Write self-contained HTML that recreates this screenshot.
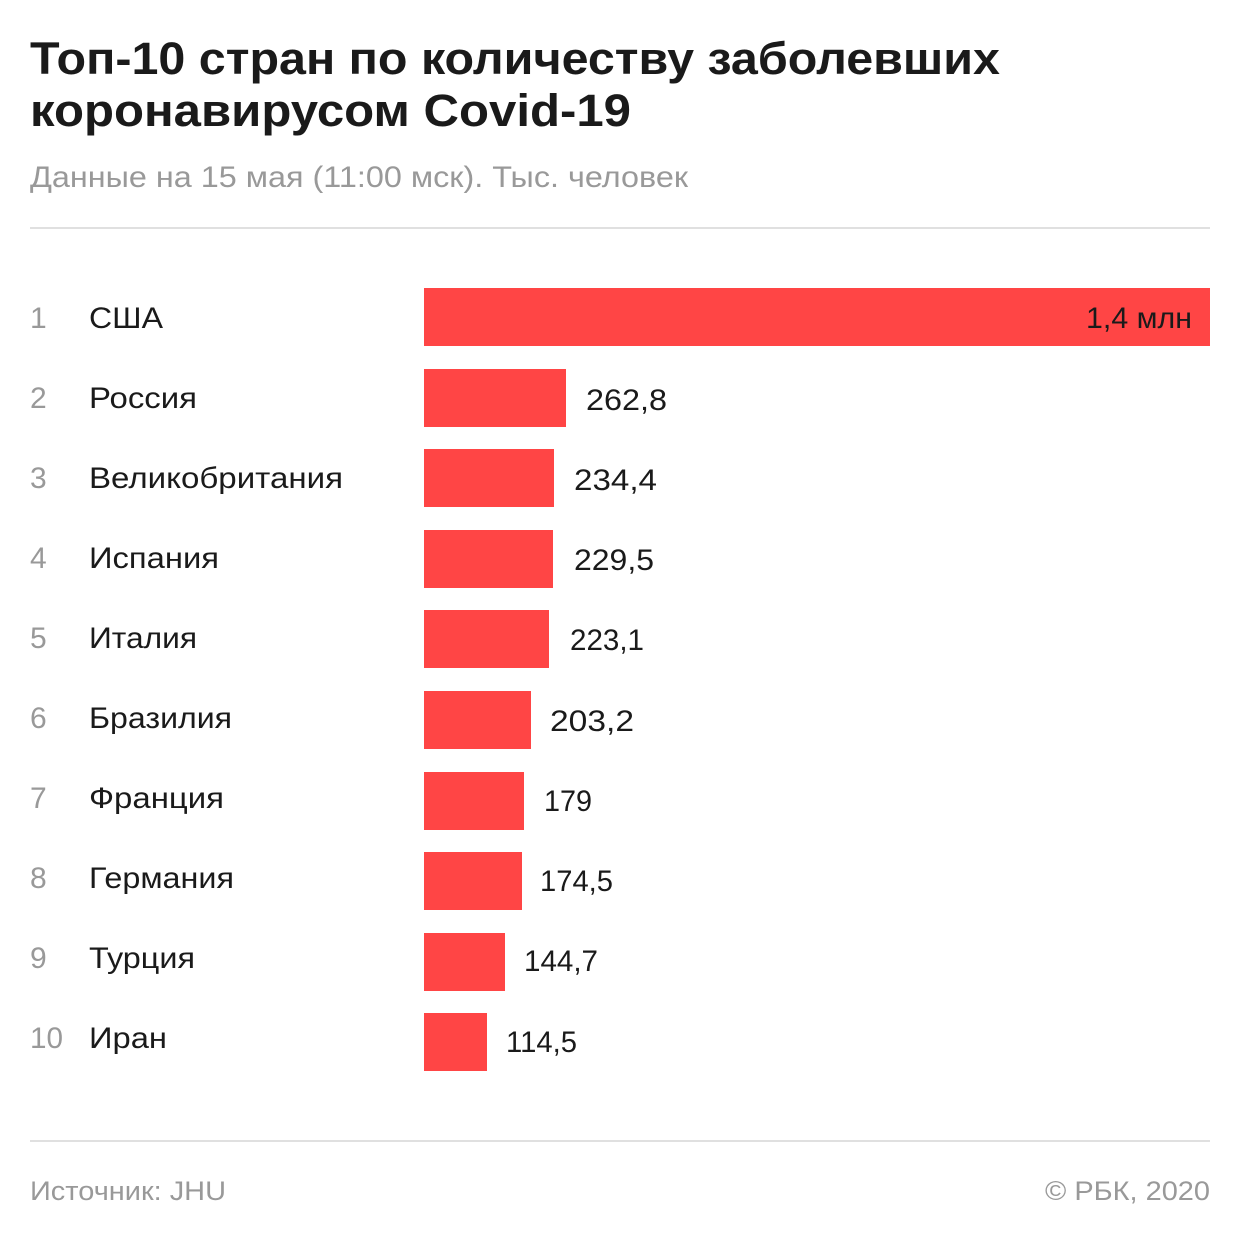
<!DOCTYPE html>
<html><head><meta charset="utf-8"><style>html,body{margin:0;padding:0;background:#fff}</style></head>
<body>
<svg width="1240" height="1240" viewBox="0 0 1240 1240" xmlns="http://www.w3.org/2000/svg" font-family="Liberation Sans, sans-serif">
<rect width="1240" height="1240" fill="#fff"/>
<g fill="#1a1a1a" font-weight="bold" font-size="45">
<text x="30" y="74" textLength="970" lengthAdjust="spacingAndGlyphs">Топ-10 стран по количеству заболевших</text>
<text x="30" y="126" textLength="601" lengthAdjust="spacingAndGlyphs">коронавирусом Covid-19</text>
</g>
<text x="30" y="187" fill="#999" font-size="30" textLength="658" lengthAdjust="spacingAndGlyphs">Данные на 15 мая (11:00 мск). Тыс. человек</text>
<rect x="30" y="227" width="1180" height="2" fill="#e0e0e0"/>
<rect x="30" y="1140" width="1180" height="2" fill="#e0e0e0"/>
<g fill="#ff4545">
<rect x="424" y="288" width="786" height="58"/>
<rect x="424" y="369" width="142" height="58"/>
<rect x="424" y="449" width="130" height="58"/>
<rect x="424" y="530" width="129" height="58"/>
<rect x="424" y="610" width="125" height="58"/>
<rect x="424" y="691" width="107" height="58"/>
<rect x="424" y="772" width="100" height="58"/>
<rect x="424" y="852" width="98" height="58"/>
<rect x="424" y="933" width="81" height="58"/>
<rect x="424" y="1013" width="63" height="58"/>
</g>
<g fill="#999" font-size="30">
<text x="30" y="328">1</text>
<text x="30" y="408">2</text>
<text x="30" y="488">3</text>
<text x="30" y="568">4</text>
<text x="30" y="648">5</text>
<text x="30" y="728">6</text>
<text x="30" y="808">7</text>
<text x="30" y="888">8</text>
<text x="30" y="968">9</text>
<text x="30" y="1048" textLength="33" lengthAdjust="spacingAndGlyphs">10</text>
</g>
<g fill="#1a1a1a" font-size="30">
<text x="89" y="328" textLength="74" lengthAdjust="spacingAndGlyphs">США</text>
<text x="89" y="408" textLength="108" lengthAdjust="spacingAndGlyphs">Россия</text>
<text x="89" y="488" textLength="254" lengthAdjust="spacingAndGlyphs">Великобритания</text>
<text x="89" y="568" textLength="130" lengthAdjust="spacingAndGlyphs">Испания</text>
<text x="89" y="648" textLength="108" lengthAdjust="spacingAndGlyphs">Италия</text>
<text x="89" y="728" textLength="143" lengthAdjust="spacingAndGlyphs">Бразилия</text>
<text x="89" y="808" textLength="135" lengthAdjust="spacingAndGlyphs">Франция</text>
<text x="89" y="888" textLength="145" lengthAdjust="spacingAndGlyphs">Германия</text>
<text x="89" y="968" textLength="106" lengthAdjust="spacingAndGlyphs">Турция</text>
<text x="89" y="1048" textLength="78" lengthAdjust="spacingAndGlyphs">Иран</text>
<text x="1086" y="328" textLength="106" lengthAdjust="spacingAndGlyphs">1,4 млн</text>
<text x="586" y="410" textLength="81" lengthAdjust="spacingAndGlyphs">262,8</text>
<text x="574" y="490" textLength="83" lengthAdjust="spacingAndGlyphs">234,4</text>
<text x="574" y="570" textLength="80" lengthAdjust="spacingAndGlyphs">229,5</text>
<text x="570" y="650" textLength="74" lengthAdjust="spacingAndGlyphs">223,1</text>
<text x="550" y="731" textLength="84" lengthAdjust="spacingAndGlyphs">203,2</text>
<text x="544" y="811" textLength="48" lengthAdjust="spacingAndGlyphs">179</text>
<text x="540" y="891" textLength="73" lengthAdjust="spacingAndGlyphs">174,5</text>
<text x="524" y="971" textLength="74" lengthAdjust="spacingAndGlyphs">144,7</text>
<text x="506" y="1052" textLength="71" lengthAdjust="spacingAndGlyphs">114,5</text>
</g>
<g fill="#999" font-size="27">
<text x="30" y="1200" textLength="196" lengthAdjust="spacingAndGlyphs">Источник: JHU</text>
<text x="1045" y="1200" textLength="165" lengthAdjust="spacingAndGlyphs">© РБК, 2020</text>
</g>
</svg>
</body></html>
